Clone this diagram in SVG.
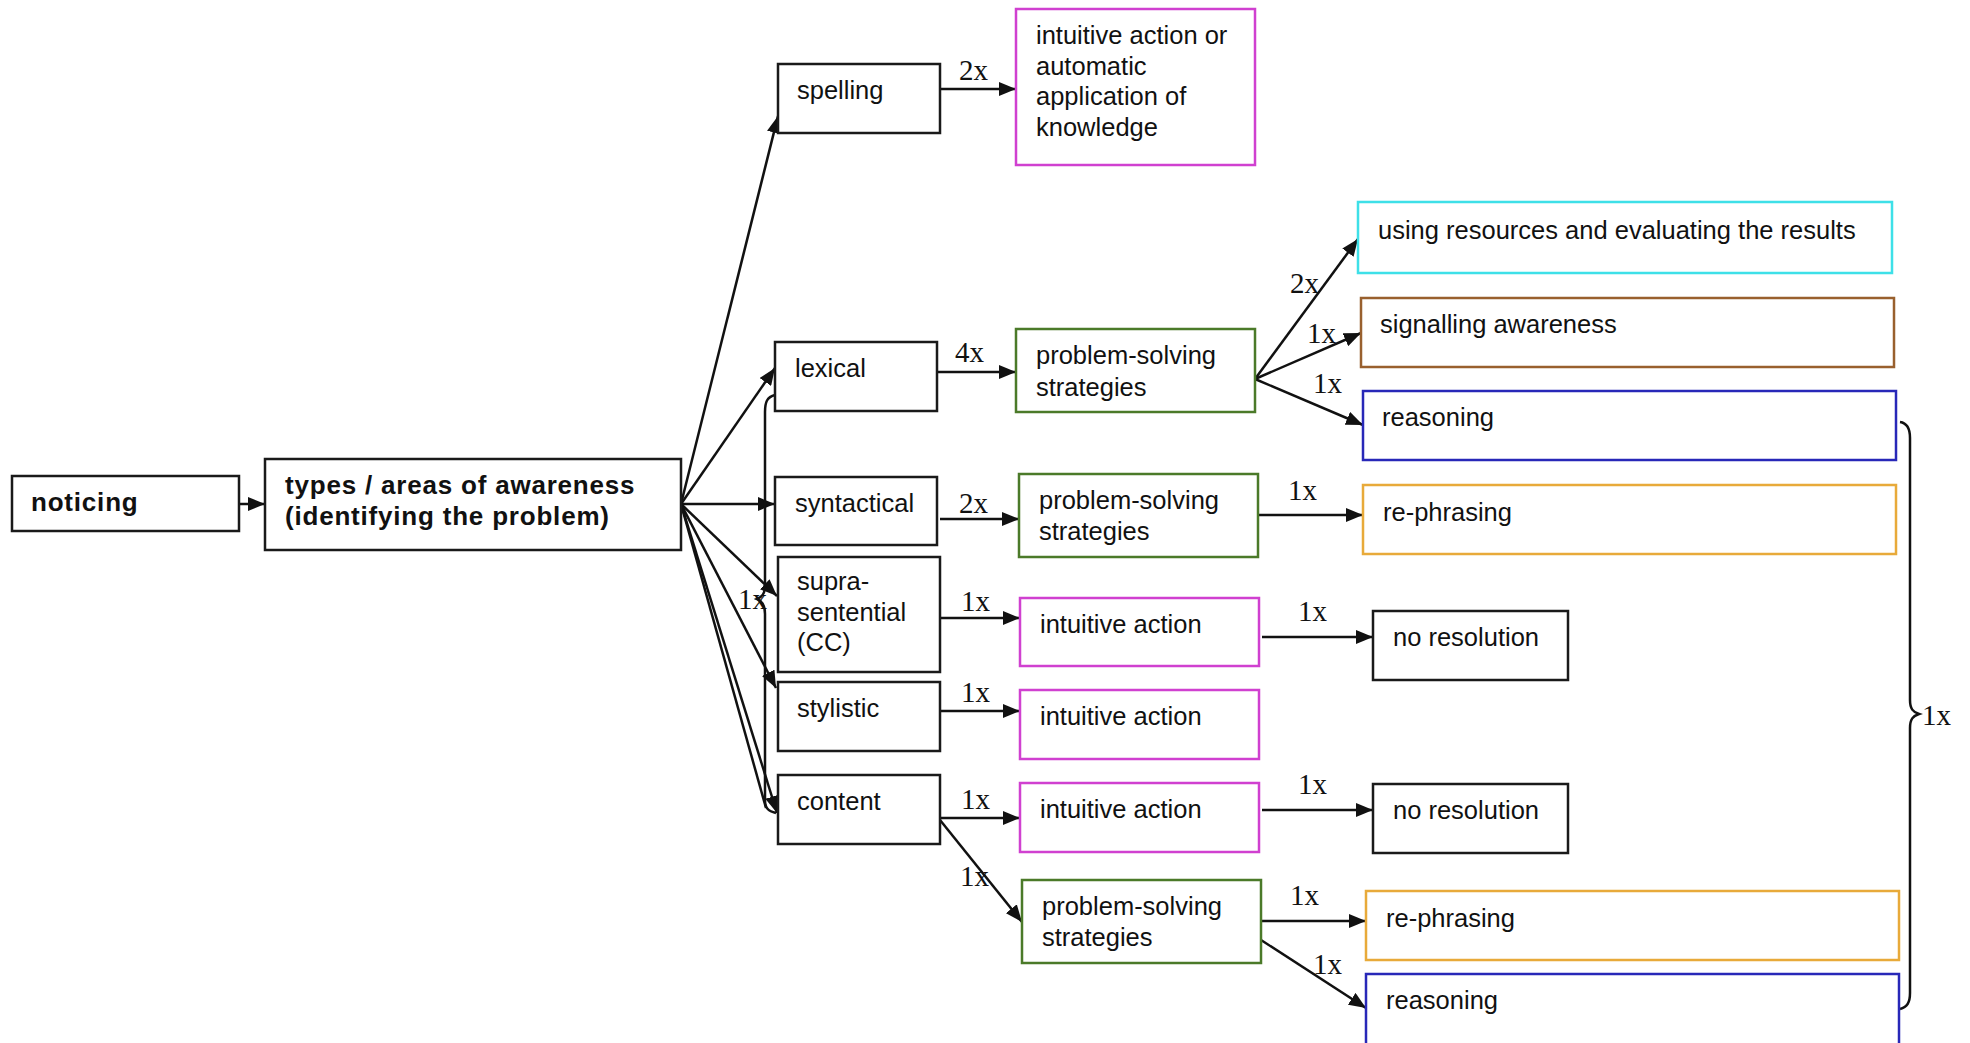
<svg xmlns="http://www.w3.org/2000/svg" width="1970" height="1043" viewBox="0 0 1970 1043">
  <style>
    .box { fill: #fff; stroke: #1a1a1a; stroke-width: 2.5; }
    .mag { stroke: #d040d0; }
    .grn { stroke: #4b7a29; }
    .cyn { stroke: #3ee0e8; }
    .brn { stroke: #99602e; }
    .blu { stroke: #2828b8; }
    .org { stroke: #e8aa3a; }
    .t { font-family: "Liberation Sans", Arial, sans-serif; font-size: 25.5px; fill: #111; }
    .b { font-family: "Liberation Sans", Arial, sans-serif; font-size: 26px; font-weight: bold; letter-spacing: 0.8px; fill: #111; }
    .n { font-family: "Liberation Serif", "Times New Roman", serif; font-size: 29px; fill: #111; }
    .c { fill: none; stroke: #111; stroke-width: 2.5; }
    .a { marker-end: url(#head); }
  </style>
  <defs>
    <marker id="head" viewBox="0 0 17 14" refX="17" refY="7" markerWidth="17" markerHeight="14" markerUnits="userSpaceOnUse" orient="auto">
      <path d="M0,0 L17,7 L0,14 Z" fill="#111"/>
    </marker>
  </defs>

  <!-- connectors -->
  <g id="connectors">
    <line class="c a" x1="239" y1="504" x2="265" y2="504"/>
    <!-- fan out of the awareness box -->
    <line class="c a" x1="681" y1="504" x2="778" y2="116"/>
    <line class="c a" x1="681" y1="504" x2="775" y2="368"/>
    <line class="c a" x1="681" y1="504" x2="775" y2="504"/>
    <line class="c a" x1="681" y1="504" x2="777" y2="596"/>
    <line class="c a" x1="681" y1="504" x2="776" y2="688"/>
    <line class="c a" x1="681" y1="504" x2="777" y2="813"/>
    <line class="c" x1="681" y1="504" x2="766" y2="808"/>
    <!-- brace spanning lexical to content -->
    <path class="c" d="M775 395 C767 397 765 402 765 412 L765 586 C765 594 762 597 757 599 C762 601 765 605 765 614 L765 800 C765 808 768 811 776 813"/>

    <line class="c a" x1="940" y1="89" x2="1016" y2="89"/>
    <line class="c a" x1="937" y1="372" x2="1016" y2="372"/>
    <line class="c a" x1="1255" y1="379" x2="1358" y2="239"/>
    <line class="c a" x1="1255" y1="379" x2="1361" y2="333"/>
    <line class="c a" x1="1255" y1="379" x2="1363" y2="425"/>
    <line class="c a" x1="940" y1="519" x2="1019" y2="519"/>
    <line class="c a" x1="1258" y1="515" x2="1363" y2="515"/>
    <line class="c a" x1="940" y1="618" x2="1020" y2="618"/>
    <line class="c a" x1="1262" y1="637" x2="1373" y2="637"/>
    <line class="c a" x1="940" y1="711" x2="1020" y2="711"/>
    <line class="c a" x1="940" y1="818" x2="1020" y2="818"/>
    <line class="c a" x1="1262" y1="810" x2="1373" y2="810"/>
    <line class="c a" x1="940" y1="820" x2="1022" y2="922"/>
    <line class="c a" x1="1261" y1="921" x2="1366" y2="921"/>
    <line class="c a" x1="1261" y1="940" x2="1366" y2="1008"/>
    <!-- brace spanning the right column -->
    <path class="c" d="M1900 422 C1907 423 1910 428 1910 438 L1910 700 C1910 709 1913 712 1919 714 C1913 716 1910 719 1910 728 L1910 993 C1910 1003 1907 1007 1900 1009"/>

    <!-- counts -->
    <text class="n" x="959" y="80">2x</text>
    <text class="n" x="955" y="362">4x</text>
    <text class="n" x="1290" y="293">2x</text>
    <text class="n" x="1307" y="343">1x</text>
    <text class="n" x="1313" y="393">1x</text>
    <text class="n" x="959" y="513">2x</text>
    <text class="n" x="1288" y="500">1x</text>
    <text class="n" x="738" y="609">1x</text>
    <text class="n" x="961" y="611">1x</text>
    <text class="n" x="1298" y="621">1x</text>
    <text class="n" x="961" y="702">1x</text>
    <text class="n" x="961" y="809">1x</text>
    <text class="n" x="1298" y="794">1x</text>
    <text class="n" x="960" y="886">1x</text>
    <text class="n" x="1290" y="905">1x</text>
    <text class="n" x="1313" y="974">1x</text>
    <text class="n" x="1922" y="725">1x</text>
  </g>

  <g id="noticing">
    <rect class="box" x="12" y="476" width="227" height="55"/>
    <text class="b" x="31" y="511">noticing</text>
  </g>
  <g id="types">
    <rect class="box" x="265" y="459" width="416" height="91"/>
    <text class="b" x="285" y="494">types / areas of awareness</text>
    <text class="b" x="285" y="525">(identifying the problem)</text>
  </g>

  <g id="spelling">
    <rect class="box" x="778" y="64" width="162" height="69"/>
    <text class="t" x="797" y="99">spelling</text>
  </g>
  <g id="spelling-result">
    <rect class="box mag" x="1016" y="9" width="239" height="156"/>
    <text class="t" x="1036" y="44">intuitive action or</text>
    <text class="t" x="1036" y="75">automatic</text>
    <text class="t" x="1036" y="105">application of</text>
    <text class="t" x="1036" y="136">knowledge</text>
  </g>

  <g id="lexical">
    <rect class="box" x="775" y="342" width="162" height="69"/>
    <text class="t" x="795" y="377">lexical</text>
  </g>
  <g id="lexical-strategies">
    <rect class="box grn" x="1016" y="329" width="239" height="83"/>
    <text class="t" x="1036" y="364">problem-solving</text>
    <text class="t" x="1036" y="396">strategies</text>
  </g>
  <g id="resources">
    <rect class="box cyn" x="1358" y="202" width="534" height="71"/>
    <text class="t" x="1378" y="239">using resources and evaluating the results</text>
  </g>
  <g id="signalling">
    <rect class="box brn" x="1361" y="298" width="533" height="69"/>
    <text class="t" x="1380" y="333">signalling awareness</text>
  </g>
  <g id="reasoning-1">
    <rect class="box blu" x="1363" y="391" width="533" height="69"/>
    <text class="t" x="1382" y="426">reasoning</text>
  </g>

  <g id="syntactical">
    <rect class="box" x="775" y="477" width="162" height="68"/>
    <text class="t" x="795" y="512">syntactical</text>
  </g>
  <g id="syntactical-strategies">
    <rect class="box grn" x="1019" y="474" width="239" height="83"/>
    <text class="t" x="1039" y="509">problem-solving</text>
    <text class="t" x="1039" y="540">strategies</text>
  </g>
  <g id="rephrasing-1">
    <rect class="box org" x="1363" y="485" width="533" height="69"/>
    <text class="t" x="1383" y="521">re-phrasing</text>
  </g>

  <g id="supra-sentential">
    <rect class="box" x="778" y="557" width="162" height="115"/>
    <text class="t" x="797" y="590">supra-</text>
    <text class="t" x="797" y="621">sentential</text>
    <text class="t" x="797" y="651">(CC)</text>
  </g>
  <g id="supra-intuitive">
    <rect class="box mag" x="1020" y="598" width="239" height="68"/>
    <text class="t" x="1040" y="633">intuitive action</text>
  </g>
  <g id="no-resolution-1">
    <rect class="box" x="1373" y="611" width="195" height="69"/>
    <text class="t" x="1393" y="646">no resolution</text>
  </g>

  <g id="stylistic">
    <rect class="box" x="778" y="682" width="162" height="69"/>
    <text class="t" x="797" y="717">stylistic</text>
  </g>
  <g id="stylistic-intuitive">
    <rect class="box mag" x="1020" y="690" width="239" height="69"/>
    <text class="t" x="1040" y="725">intuitive action</text>
  </g>

  <g id="content">
    <rect class="box" x="778" y="775" width="162" height="69"/>
    <text class="t" x="797" y="810">content</text>
  </g>
  <g id="content-intuitive">
    <rect class="box mag" x="1020" y="783" width="239" height="69"/>
    <text class="t" x="1040" y="818">intuitive action</text>
  </g>
  <g id="no-resolution-2">
    <rect class="box" x="1373" y="784" width="195" height="69"/>
    <text class="t" x="1393" y="819">no resolution</text>
  </g>
  <g id="content-strategies">
    <rect class="box grn" x="1022" y="880" width="239" height="83"/>
    <text class="t" x="1042" y="915">problem-solving</text>
    <text class="t" x="1042" y="946">strategies</text>
  </g>
  <g id="rephrasing-2">
    <rect class="box org" x="1366" y="891" width="533" height="69"/>
    <text class="t" x="1386" y="927">re-phrasing</text>
  </g>
  <g id="reasoning-2">
    <rect class="box blu" x="1366" y="974" width="533" height="80"/>
    <text class="t" x="1386" y="1009">reasoning</text>
  </g>
</svg>
